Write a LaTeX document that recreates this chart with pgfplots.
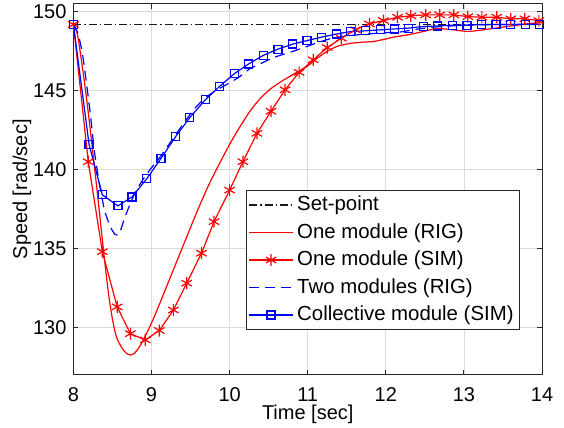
\documentclass[border=0pt]{standalone}
\usepackage{fontspec}
\setmainfont{Liberation Sans}
\usepackage{pgfplots}
\pgfplotsset{compat=1.18}
\usetikzlibrary{calc}
\definecolor{mgray}{gray}{0.15}

\begin{document}
\fontsize{10}{12}\selectfont
\begin{tikzpicture}
\begin{axis}[
  scale only axis, width=234.5pt, height=185.5pt,
  xmin=8, xmax=14, ymin=127, ymax=150.5,
  xtick={8,...,14}, ytick={130,135,...,150},
  grid=major, major grid style={gray!28, line width=0.4pt},
  axis line style={mgray, line width=0.5pt},
  tick style={mgray, line width=0.5pt}, tick align=inside, major tick length=2.5pt,
  tick label style={font=\fontsize{10}{12}\selectfont},
  xticklabel style={yshift=-2.9pt},
  /pgf/number format/assume math mode=true,
  xlabel={Time [sec]}, ylabel={Speed [rad/sec]},
  label style={font=\fontsize{10}{12}\selectfont},
  xlabel style={at={(axis description cs:0.5,-0.108)}, anchor=center},
  ylabel style={at={(axis description cs:-0.1098,0.5)}, anchor=center},
  legend style={at={(0.369,0.499)}, anchor=north west, font=\fontsize{10.2}{11}\selectfont,
    draw=mgray, line width=0.5pt, inner sep=1pt, row sep=0.85pt},
  legend cell align=left,
  legend image code/.code={\draw[mark repeat=2,mark phase=2] plot coordinates {(0cm,0cm) (0.38cm,0cm) (0.76cm,0cm)};},
]
% set-point
\addplot[black!90, line width=0.6pt, dash pattern=on 4pt off 1.5pt on 0.6pt off 1.5pt] coordinates {(8,149.2) (14,149.2)};
\addlegendentry{Set-point}
% one module (RIG)
\addplot[red, line width=0.6pt, smooth, tension=0.4] coordinates {
(8.00,149.2) (8.05,148.6) (8.10,147.0) (8.15,145.2) (8.20,143.2) (8.25,141.0)
(8.30,138.8) (8.35,136.5) (8.40,134.2) (8.45,132.1) (8.50,130.5) (8.55,129.4)
(8.62,128.7) (8.68,128.35) (8.73,128.25) (8.78,128.35) (8.85,128.8) (8.94,129.65)
(9.02,130.5) (9.10,131.45) (9.19,132.55) (9.28,133.65) (9.37,134.75) (9.46,135.85)
(9.55,136.95) (9.64,138.0) (9.73,139.0) (9.84,140.1) (10.00,141.6) (10.13,142.7)
(10.26,143.7) (10.39,144.5) (10.52,145.1) (10.65,145.55) (10.80,146.0) (10.99,146.54)
(11.12,147.05) (11.25,147.5) (11.38,147.82) (11.54,148.0) (11.70,148.08) (11.84,148.12)
(11.97,148.25) (12.10,148.4) (12.30,148.56) (12.50,148.78) (12.65,148.95) (12.75,148.92)
(12.87,148.86) (13.04,148.76) (13.15,148.8) (13.30,148.9) (13.55,149.07) (13.81,149.24)
(14.00,149.32)};
\addlegendentry{One module (RIG)}
% one module (SIM)
\addplot[red, line width=0.6pt, mark=asterisk, mark size=3pt, mark options={line width=0.6pt}] coordinates {
(8.00,149.2) (8.19,140.5) (8.37,134.8) (8.56,131.3) (8.73,129.6) (8.92,129.2)
(9.10,129.8) (9.28,131.1) (9.45,132.8) (9.64,134.7) (9.80,136.7) (10.00,138.7)
(10.17,140.5) (10.35,142.3) (10.53,143.7) (10.71,145.06) (10.89,146.16) (11.07,146.96)
(11.25,147.74) (11.43,148.33) (11.61,148.86) (11.79,149.24) (11.97,149.45) (12.15,149.66)
(12.32,149.75) (12.51,149.81) (12.69,149.81) (12.87,149.81) (13.05,149.7) (13.23,149.66)
(13.42,149.66) (13.60,149.56) (13.78,149.56) (13.96,149.45)};
\addlegendentry{One module (SIM)}
% two modules (RIG)
\addplot[blue, line width=0.6pt, dash pattern=on 5pt off 3pt, smooth, tension=0.4] coordinates {
(8.00,149.2) (8.06,148.6) (8.12,147.2) (8.21,143.8) (8.27,141.1) (8.34,138.9)
(8.40,137.4) (8.47,136.4) (8.53,135.9) (8.56,135.85) (8.60,136.1) (8.66,137.0)
(8.75,138.1) (8.83,138.9) (8.95,139.8) (9.11,140.8) (9.32,142.3) (9.54,143.8)
(9.70,144.6) (9.84,145.06) (10.00,145.5) (10.13,145.9) (10.26,146.4) (10.39,146.7)
(10.56,147.1) (10.75,147.4) (10.90,147.65) (11.12,148.04) (11.33,148.35) (11.55,148.5)
(11.76,148.6) (12.00,148.68) (12.19,148.73) (12.40,148.9) (12.55,149.0) (12.70,149.07)
(13.00,149.15) (13.50,149.2) (14.00,149.2)};
\addlegendentry{Two modules (RIG)}
% collective module (SIM)
\addplot[blue, line width=0.6pt, mark=square, mark size=2pt, mark options={line width=0.6pt}] coordinates {
(8.00,149.2) (8.20,141.6) (8.37,138.4) (8.57,137.7) (8.75,138.27) (8.94,139.43)
(9.12,140.7) (9.31,142.1) (9.49,143.3) (9.69,144.43) (9.87,145.27) (10.06,146.08)
(10.24,146.69) (10.43,147.24) (10.62,147.64) (10.81,147.96) (10.99,148.18) (11.18,148.4)
(11.37,148.6) (11.55,148.75) (11.74,148.8) (11.93,148.86) (12.11,148.92) (12.29,148.97)
(12.48,149.07) (12.66,149.11) (12.85,149.15) (13.04,149.15) (13.22,149.2) (13.41,149.2)
(13.60,149.2) (13.79,149.22) (13.97,149.22)};
\addlegendentry{Collective module (SIM)}
\end{axis}
\pgfresetboundingbox
\path[use as bounding box] ($(current axis.south west)+(-36.75pt,-26.5pt)$) rectangle ($(current axis.north east)+(11pt,2pt)$);
\end{tikzpicture}
\end{document}
